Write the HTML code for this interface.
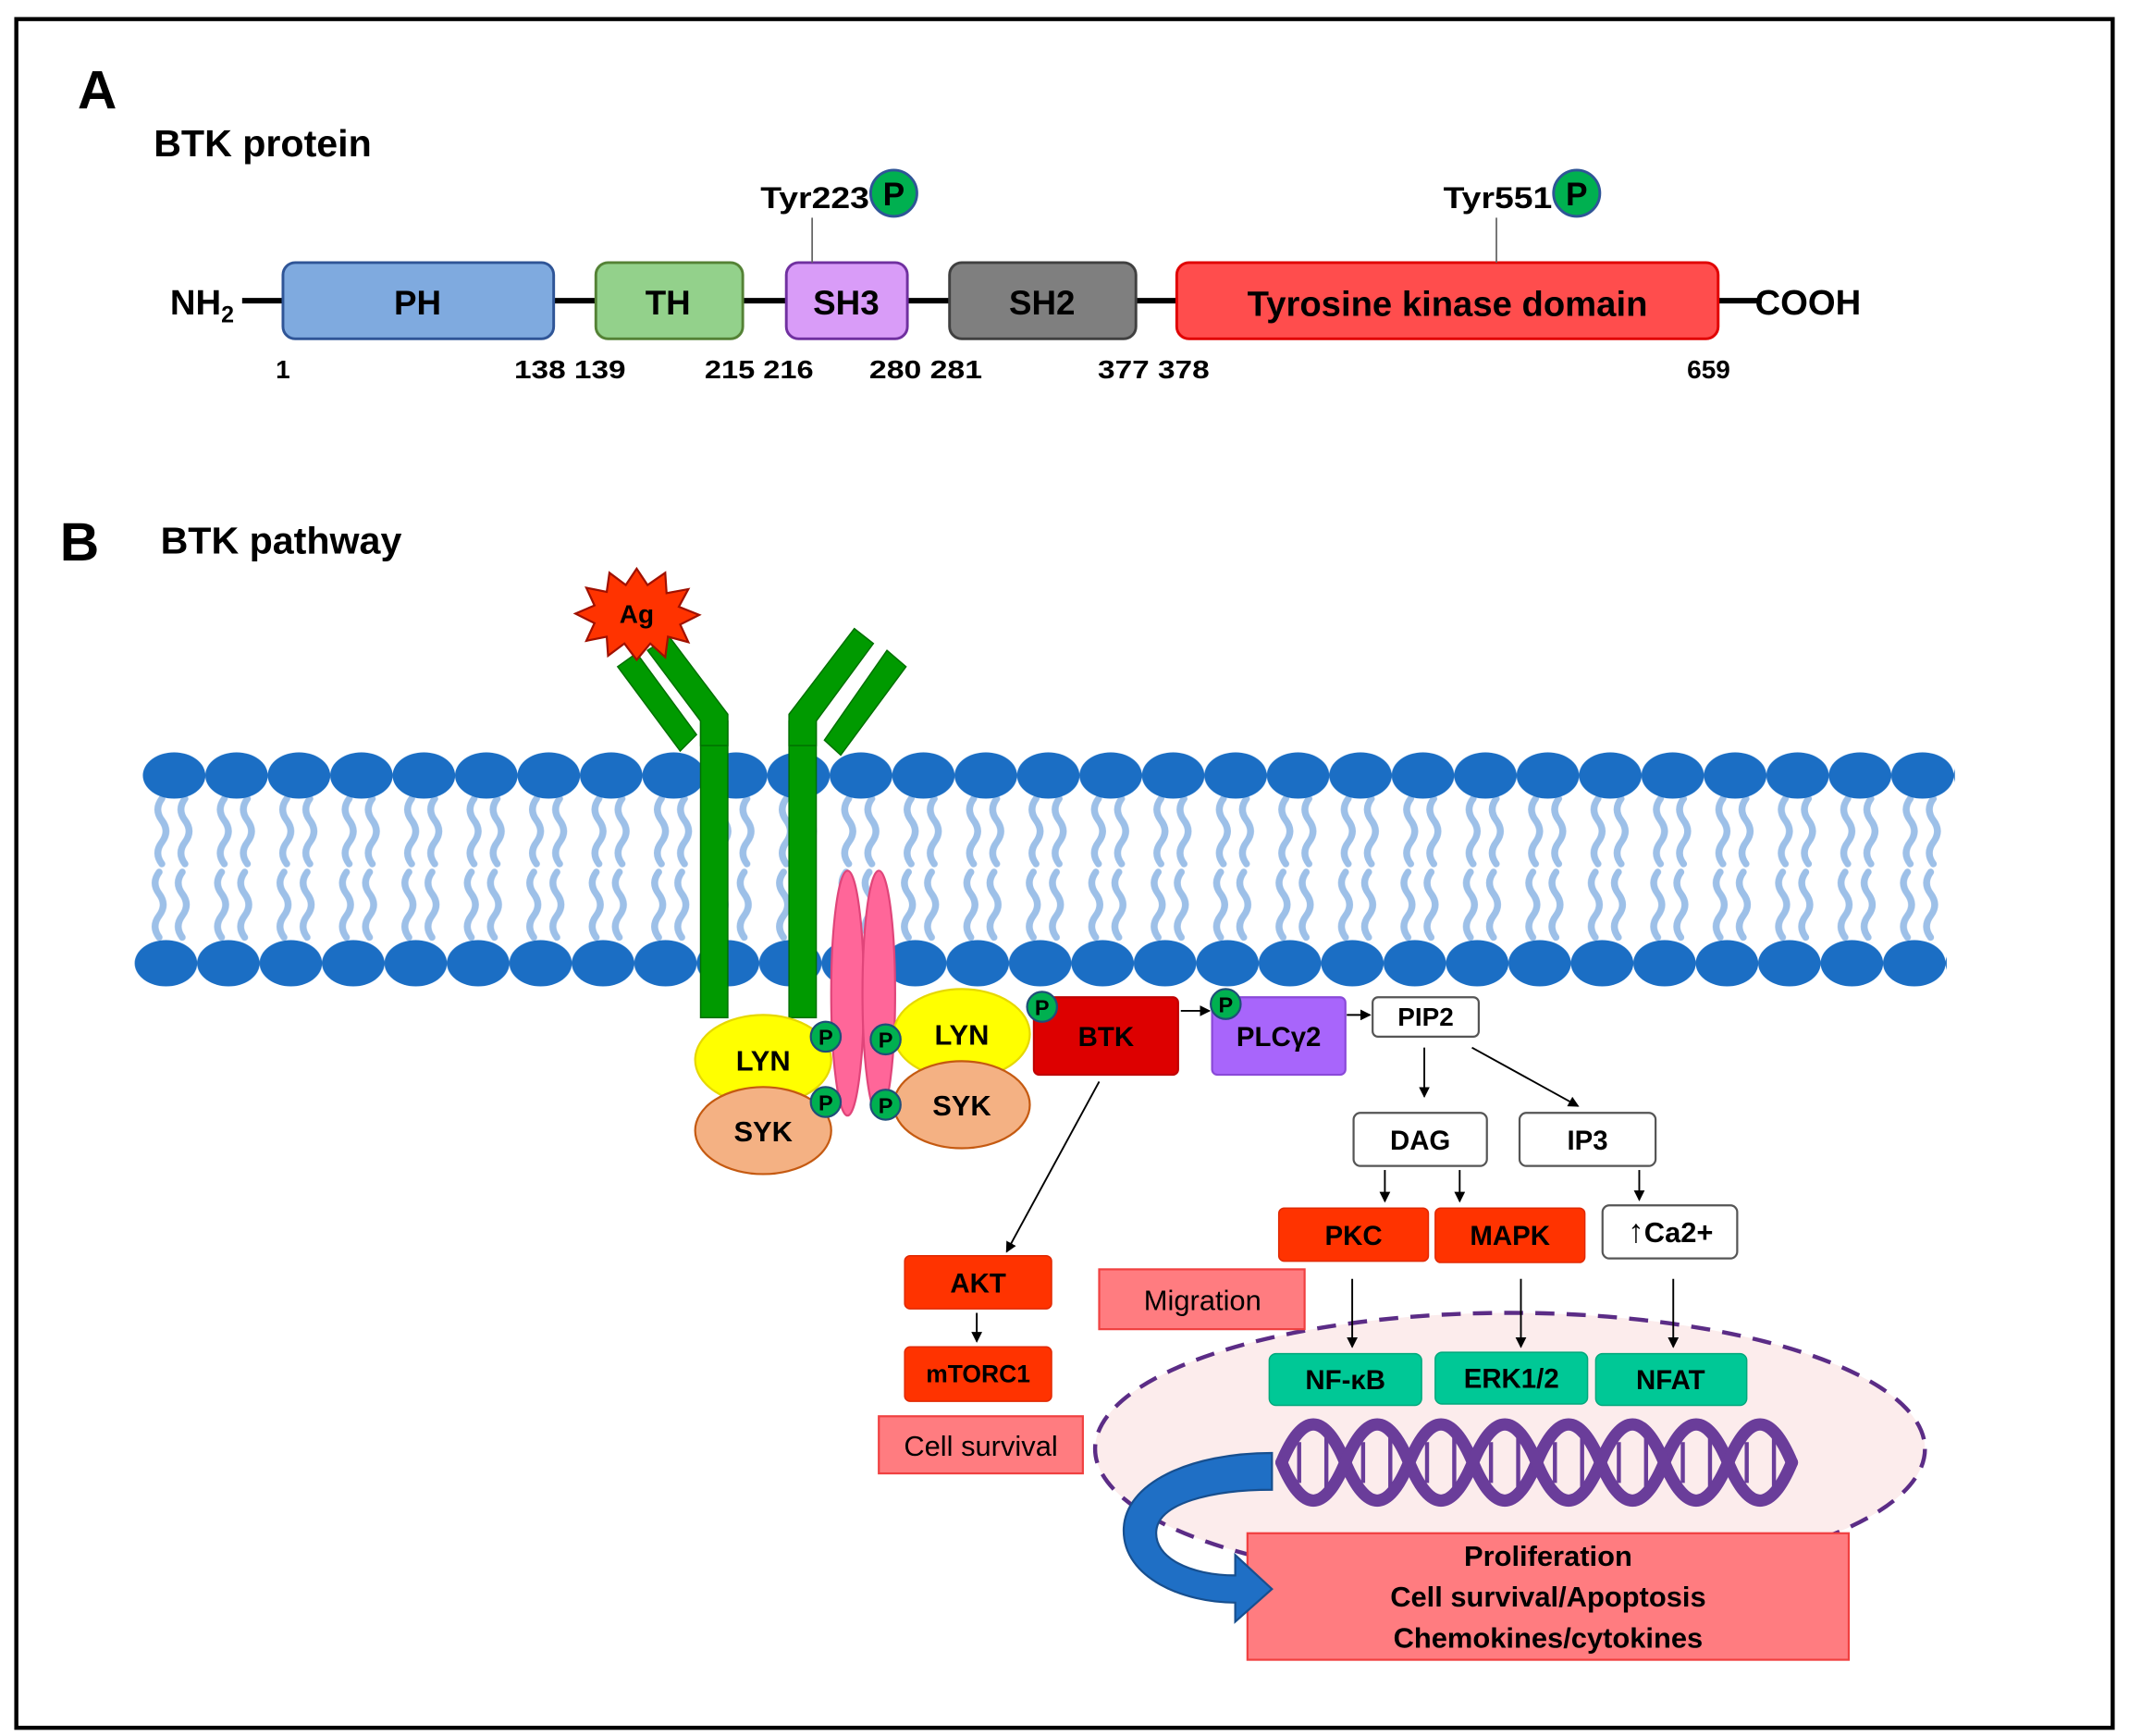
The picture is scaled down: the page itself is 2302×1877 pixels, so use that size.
<!DOCTYPE html>
<html><head><meta charset="utf-8"><style>
html,body{margin:0;padding:0;background:#fff;}
svg{display:block;}
text{font-family:"Liberation Sans","DejaVu Sans",sans-serif;font-weight:bold;}
</style></head><body>
<svg width="2302" height="1877" viewBox="0 0 1565 1276" xmlns="http://www.w3.org/2000/svg">
<defs>
<pattern id="headT" x="105" y="553" width="45.9" height="34" patternUnits="userSpaceOnUse">
<ellipse cx="23" cy="17" rx="23" ry="17" fill="#1b6ec4"/>
</pattern>
<pattern id="headB" x="99" y="691" width="45.9" height="34" patternUnits="userSpaceOnUse">
<ellipse cx="23" cy="17" rx="23" ry="17" fill="#1b6ec4"/>
</pattern>
<pattern id="tails" x="105" y="585" width="45.9" height="108" patternUnits="userSpaceOnUse">
<g fill="none" stroke="#9dc0e8" stroke-width="5" stroke-linecap="round">
<path d="M14 2 q-6 8 0 16 t0 16 t0 16"/>
<path d="M31 2 q-6 8 0 16 t0 16 t0 16"/>
<path d="M12 56 q-6 8 0 16 t0 16 t0 16"/>
<path d="M29 56 q-6 8 0 16 t0 16 t0 16"/>
</g>
</pattern>
<marker id="ar" markerWidth="8" markerHeight="8" refX="7" refY="4" orient="auto" markerUnits="userSpaceOnUse">
<path d="M0 0 L8 4 L0 8 Z" fill="#000"/>
</marker>
</defs>

<rect x="12" y="14" width="1541" height="1256" fill="#fff" stroke="#000" stroke-width="3"/>

<!-- Part A -->
<text x="57" y="80" font-size="40">A</text>
<text x="113" y="115" font-size="28">BTK protein</text>
<line x1="178" y1="221" x2="1295" y2="221" stroke="#000" stroke-width="4"/>
<text x="125" y="231" font-size="26">NH<tspan font-size="17" dy="6">2</tspan></text>
<text x="1290" y="231" font-size="26">COOH</text>
<rect x="208" y="193" width="199" height="56" rx="9" fill="#7faadf" stroke="#2f5597" stroke-width="2"/>
<text x="307" y="231" font-size="25" text-anchor="middle">PH</text>
<rect x="438" y="193" width="108" height="56" rx="9" fill="#93d18b" stroke="#548235" stroke-width="2"/>
<text x="491" y="231" font-size="25" text-anchor="middle">TH</text>
<rect x="578" y="193" width="89" height="56" rx="9" fill="#d99cf8" stroke="#7030a0" stroke-width="2"/>
<text x="622" y="231" font-size="25" text-anchor="middle">SH3</text>
<rect x="698" y="193" width="137" height="56" rx="9" fill="#7f7f7f" stroke="#404040" stroke-width="2"/>
<text x="766" y="231" font-size="25" text-anchor="middle">SH2</text>
<rect x="865" y="193" width="398" height="56" rx="9" fill="#ff4d4d" stroke="#e00000" stroke-width="2"/>
<text x="1064" y="232" font-size="26" text-anchor="middle">Tyrosine kinase domain</text>
<g font-size="19">
<text x="208" y="278" text-anchor="middle">1</text>
<text x="378" y="278" textLength="82" lengthAdjust="spacingAndGlyphs">138 139</text>
<text x="518" y="278" textLength="80" lengthAdjust="spacingAndGlyphs">215 216</text>
<text x="639" y="278" textLength="83" lengthAdjust="spacingAndGlyphs">280 281</text>
<text x="807" y="278" textLength="82" lengthAdjust="spacingAndGlyphs">377 378</text>
<text x="1256" y="278" text-anchor="middle">659</text>
</g>
<line x1="597" y1="160" x2="597" y2="193" stroke="#666" stroke-width="1.2"/>
<line x1="1100" y1="160" x2="1100" y2="193" stroke="#666" stroke-width="1.2"/>
<text x="559" y="153" font-size="22" textLength="80" lengthAdjust="spacingAndGlyphs">Tyr223</text>
<circle cx="657" cy="142" r="17" fill="#00b050" stroke="#2f5597" stroke-width="2"/>
<text x="657" y="151" font-size="24" text-anchor="middle">P</text>
<text x="1061" y="153" font-size="22" textLength="80" lengthAdjust="spacingAndGlyphs">Tyr551</text>
<circle cx="1159" cy="142" r="17" fill="#00b050" stroke="#2f5597" stroke-width="2"/>
<text x="1159" y="151" font-size="24" text-anchor="middle">P</text>

<!-- Part B -->
<text x="44" y="412" font-size="40">B</text>
<text x="118" y="407" font-size="28">BTK pathway</text>

<!-- membrane -->
<rect x="105" y="585" width="1332" height="108" fill="url(#tails)"/>
<rect x="105" y="553" width="1332" height="34" fill="url(#headT)"/>
<rect x="99" y="691" width="1332" height="34" fill="url(#headB)"/>

<!-- pink ovals -->
<ellipse cx="623" cy="730" rx="12" ry="90" fill="#ff6699" stroke="#e0457a" stroke-width="1.5"/>
<ellipse cx="646" cy="730" rx="12" ry="90" fill="#ff6699" stroke="#e0457a" stroke-width="1.5"/>

<!-- receptor -->
<g fill="#009a00" stroke="#007000" stroke-width="1">
<rect x="515" y="530" width="20" height="218"/>
<rect x="580" y="530" width="20" height="218"/>
<polygon points="476,478 492,468 535,525 535,548 515,548 515,530"/>
<polygon points="454,490 468,480 512,540 500,552"/>
<polygon points="628,462 642,473 600,530 600,548 580,548 580,525"/>
<polygon points="652,478 666,490 618,555 606,544"/>
</g>
<!-- Ag star -->
<polygon fill="#ff3300" stroke="#a01000" stroke-width="1.5" points="468,418 476,430 489,421 490,436 506,433 499,446 514,452 500,459 506,472 491,468 489,483 478,473 468,485 459,473 447,482 446,468 431,471 437,458 423,451 437,445 431,432 446,435 448,421 460,430"/>
<text x="468" y="458" font-size="19" text-anchor="middle">Ag</text>

<!-- LYN/SYK -->
<ellipse cx="561" cy="779" rx="50" ry="33" fill="#ffff00" stroke="#e6d800" stroke-width="1.5"/>
<text x="561" y="787" font-size="21" text-anchor="middle">LYN</text>
<ellipse cx="561" cy="831" rx="50" ry="32" fill="#f4b183" stroke="#c55a11" stroke-width="1.5"/>
<text x="561" y="839" font-size="21" text-anchor="middle">SYK</text>
<ellipse cx="707" cy="760" rx="50" ry="33" fill="#ffff00" stroke="#e6d800" stroke-width="1.5"/>
<text x="707" y="768" font-size="21" text-anchor="middle">LYN</text>
<ellipse cx="707" cy="812" rx="50" ry="32" fill="#f4b183" stroke="#c55a11" stroke-width="1.5"/>
<text x="707" y="820" font-size="21" text-anchor="middle">SYK</text>

<g font-size="16">
<circle cx="607" cy="762" r="11" fill="#00b050" stroke="#1f4e79" stroke-width="1.5"/><text x="607" y="768" text-anchor="middle">P</text>
<circle cx="651" cy="764" r="11" fill="#00b050" stroke="#1f4e79" stroke-width="1.5"/><text x="651" y="770" text-anchor="middle">P</text>
<circle cx="607" cy="810" r="11" fill="#00b050" stroke="#1f4e79" stroke-width="1.5"/><text x="607" y="816" text-anchor="middle">P</text>
<circle cx="651" cy="812" r="11" fill="#00b050" stroke="#1f4e79" stroke-width="1.5"/><text x="651" y="818" text-anchor="middle">P</text>
</g>

<!-- BTK, PLCg2 -->
<rect x="760" y="733" width="106" height="57" rx="4" fill="#dd0000" stroke="#c00000" stroke-width="1.5"/>
<text x="813" y="769" font-size="20" text-anchor="middle">BTK</text>
<rect x="891" y="733" width="98" height="57" rx="4" fill="#a865fb" stroke="#8a4ad8" stroke-width="1.5"/>
<text x="940" y="769" font-size="20" text-anchor="middle">PLCγ2</text>
<rect x="1009" y="733" width="78" height="29" rx="4" fill="#fff" stroke="#555" stroke-width="1.5"/>
<text x="1048" y="754" font-size="19" text-anchor="middle">PIP2</text>
<g font-size="16">
<circle cx="766" cy="740" r="11" fill="#00b050" stroke="#1f4e79" stroke-width="1.5"/><text x="766" y="746" text-anchor="middle">P</text>
<circle cx="901" cy="738" r="11" fill="#00b050" stroke="#1f4e79" stroke-width="1.5"/><text x="901" y="744" text-anchor="middle">P</text>
</g>
<g stroke="#000" stroke-width="1.3" marker-end="url(#ar)">
<line x1="868" y1="743" x2="889" y2="743"/>
<line x1="990" y1="746" x2="1007" y2="746"/>
<line x1="1047" y1="770" x2="1047" y2="806"/>
<line x1="1082" y1="770" x2="1160" y2="813"/>
<line x1="1018" y1="860" x2="1018" y2="883"/>
<line x1="1073" y1="860" x2="1073" y2="883"/>
<line x1="1205" y1="860" x2="1205" y2="882"/>
<line x1="808" y1="795" x2="740" y2="920"/>
<line x1="718" y1="965" x2="718" y2="986"/>
</g>

<rect x="995" y="818" width="98" height="39" rx="5" fill="#fff" stroke="#555" stroke-width="1.5"/>
<text x="1044" y="845" font-size="20" text-anchor="middle">DAG</text>
<rect x="1117" y="818" width="100" height="39" rx="5" fill="#fff" stroke="#555" stroke-width="1.5"/>
<text x="1167" y="845" font-size="20" text-anchor="middle">IP3</text>

<rect x="940" y="888" width="110" height="39" rx="4" fill="#ff3300" stroke="#e02800" stroke-width="1"/>
<text x="995" y="915" font-size="20" text-anchor="middle">PKC</text>
<rect x="1055" y="888" width="110" height="40" rx="4" fill="#ff3300" stroke="#e02800" stroke-width="1"/>
<text x="1110" y="915" font-size="20" text-anchor="middle">MAPK</text>
<rect x="1178" y="886" width="99" height="39" rx="5" fill="#fff" stroke="#555" stroke-width="1.5"/>
<text x="1228" y="913" font-size="21" text-anchor="middle"><tspan font-size="24" font-weight="normal">↑</tspan>Ca2+</text>

<!-- nucleus -->
<ellipse cx="1110" cy="1065" rx="305" ry="100" fill="#fcecec" stroke="#5b2c86" stroke-width="3" stroke-dasharray="14,9"/>

<g stroke="#000" stroke-width="1.3" marker-end="url(#ar)">
<line x1="994" y1="940" x2="994" y2="990"/>
<line x1="1118" y1="940" x2="1118" y2="990"/>
<line x1="1230" y1="940" x2="1230" y2="990"/>
</g>

<rect x="808" y="933" width="151" height="44" fill="#ff7c80" stroke="#f04040" stroke-width="1.5"/>
<text x="884" y="963" font-size="21" text-anchor="middle" style="font-weight:normal">Migration</text>

<g font-size="20">
<rect x="933" y="995" width="112" height="38" rx="5" fill="#00c896" stroke="#00a87c" stroke-width="1"/>
<text x="989" y="1021" text-anchor="middle">NF-κB</text>
<rect x="1055" y="994" width="112" height="38" rx="5" fill="#00c896" stroke="#00a87c" stroke-width="1"/>
<text x="1111" y="1020" text-anchor="middle">ERK1/2</text>
<rect x="1173" y="995" width="111" height="38" rx="5" fill="#00c896" stroke="#00a87c" stroke-width="1"/>
<text x="1228" y="1021" text-anchor="middle">NFAT</text>
</g>

<!-- DNA -->
<g stroke="#6a3d9a" fill="none">
<g stroke-width="3">
<line x1="955" y1="1060" x2="955" y2="1090"/><line x1="975" y1="1055" x2="975" y2="1095"/>
<line x1="1002" y1="1060" x2="1002" y2="1090"/><line x1="1022" y1="1055" x2="1022" y2="1095"/>
<line x1="1049" y1="1060" x2="1049" y2="1090"/><line x1="1069" y1="1055" x2="1069" y2="1095"/>
<line x1="1096" y1="1060" x2="1096" y2="1090"/><line x1="1116" y1="1055" x2="1116" y2="1095"/>
<line x1="1143" y1="1060" x2="1143" y2="1090"/><line x1="1163" y1="1055" x2="1163" y2="1095"/>
<line x1="1190" y1="1060" x2="1190" y2="1090"/><line x1="1210" y1="1055" x2="1210" y2="1095"/>
<line x1="1237" y1="1060" x2="1237" y2="1090"/><line x1="1257" y1="1055" x2="1257" y2="1095"/>
<line x1="1284" y1="1060" x2="1284" y2="1090"/><line x1="1304" y1="1055" x2="1304" y2="1095"/>
</g>
<path stroke-width="9" stroke-linecap="round" d="M942 1075 q23.4 -56 46.9 0 t46.9 0 t46.9 0 t46.9 0 t46.9 0 t46.9 0 t46.9 0 t46.9 0"/>
<path stroke-width="9" stroke-linecap="round" d="M942 1075 q23.4 56 46.9 0 t46.9 0 t46.9 0 t46.9 0 t46.9 0 t46.9 0 t46.9 0 t46.9 0"/>
</g>

<!-- AKT branch -->
<rect x="665" y="923" width="108" height="39" rx="4" fill="#ff3300" stroke="#e02800" stroke-width="1"/>
<text x="719" y="950" font-size="20" text-anchor="middle">AKT</text>
<rect x="665" y="990" width="108" height="40" rx="4" fill="#ff3300" stroke="#e02800" stroke-width="1"/>
<text x="719" y="1016" font-size="18" text-anchor="middle">mTORC1</text>
<rect x="646" y="1041" width="150" height="42" fill="#ff7c80" stroke="#f04040" stroke-width="1.5"/>
<text x="721" y="1070" font-size="21" text-anchor="middle" style="font-weight:normal">Cell survival</text>

<!-- outcome box -->
<rect x="917" y="1127" width="442" height="93" fill="#ff7c80" stroke="#f04040" stroke-width="1.5"/>
<g font-size="21" text-anchor="middle" style="font-weight:normal">
<text x="1138" y="1151">Proliferation</text>
<text x="1138" y="1181">Cell survival/Apoptosis</text>
<text x="1138" y="1211">Chemokines/cytokines</text>
</g>

<!-- blue arrow -->
<path fill="#1f6fc5" stroke="#174f8f" stroke-width="1.5" d="M935 1068 C875 1068 826 1090 826 1125 C826 1160 870 1178 908 1178 L908 1192 L935 1168 L908 1143 L908 1158 C875 1158 848 1145 850 1125 C852 1105 890 1095 935 1095 Z"/>
</svg>
</body></html>
